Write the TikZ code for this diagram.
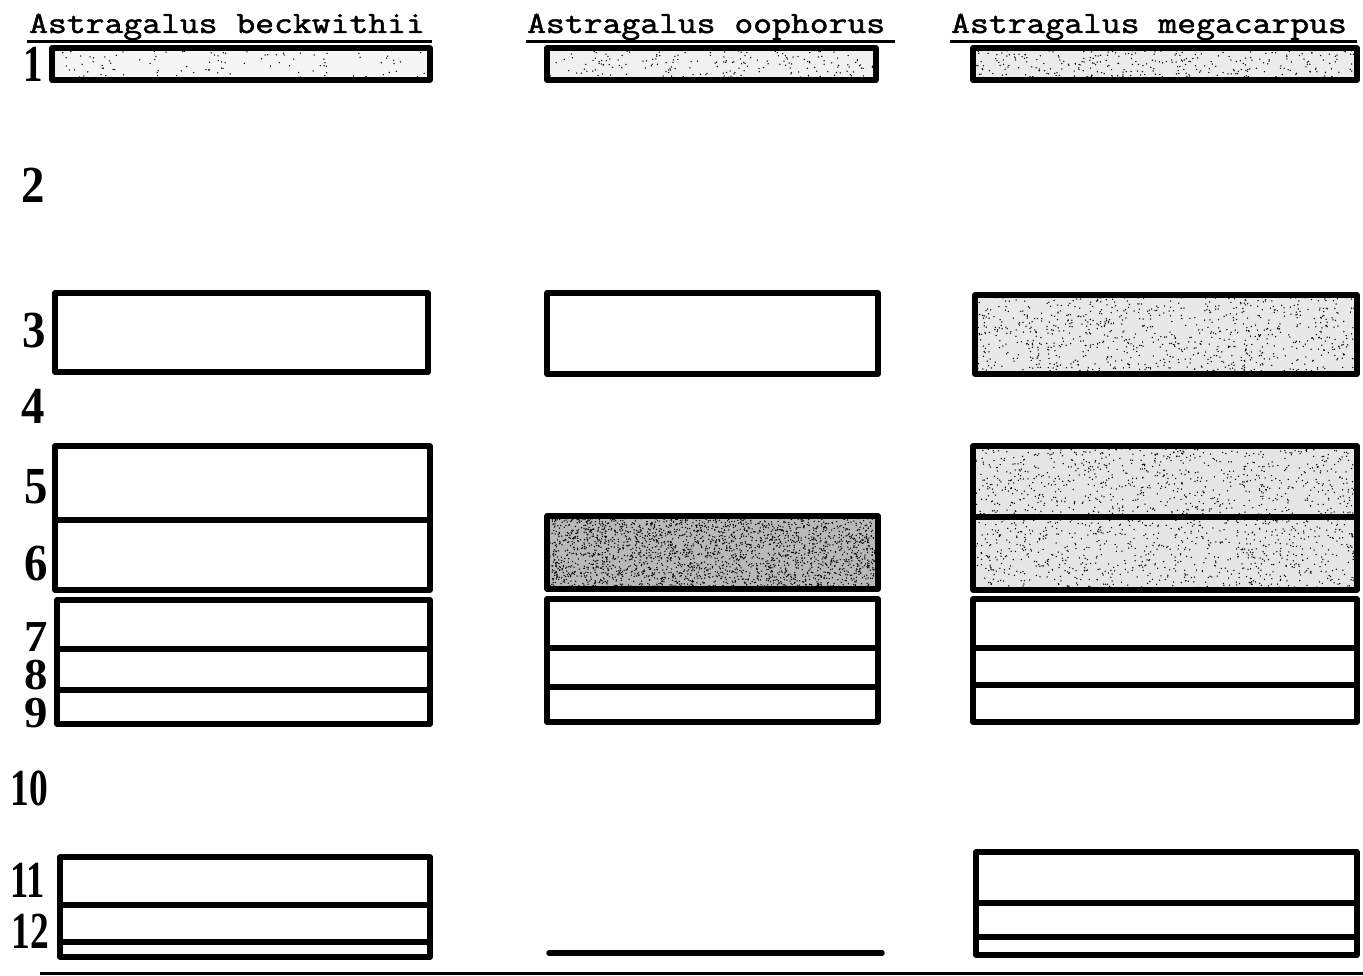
\documentclass[tikz,border=0pt]{standalone}
\usepackage{fontspec}
\usepackage{graphicx}
\setmainfont{Liberation Serif}
\newfontfamily\hdrfont{Latin Modern Mono}[FakeBold=1.5]
\newcommand\stipplebox[6]{%
  \fill[black!#6] (#1,#2) rectangle (#3,#4);
  \foreach \k in {1,...,#5}{\fill ({#1+rnd*(#3-#1)},{#2+rnd*(#4-#2)}) circle (0.75);}}
\begin{document}
\begin{tikzpicture}[x=1pt,y=-1pt,
  band/.style={line width=5.5pt,line join=round,line cap=round},
  divider/.style={line width=5.5pt},
  header/.style={anchor=base west,inner sep=0pt,font=\fontsize{31}{31}\hdrfont\bfseries},
  rowlab/.style={anchor=base east,inner sep=0pt,font=\fontsize{52}{52}\bfseries}]
\useasboundingbox (0,0) rectangle (1363,976);
\fill[white] (0,0) rectangle (1363,976);
\pgfmathsetseed{7}
% headers
\node[header] (h1) at (29,33) {\scalebox{1.18}[1]{Astragalus beckwithii}};
\node[header] (h2) at (527,33) {\scalebox{1.18}[1]{Astragalus oophorus}};
\node[header] (h3) at (951,33) {\scalebox{1.18}[1]{Astragalus megacarpus}};
\draw[line width=3pt] (27,41.5) -- (432,41.5);
\draw[line width=3pt] (526,41.5) -- (895,41.5);
\draw[line width=3pt] (950,41.5) -- (1357,41.5);
% row labels
\node[rowlab] (l1) at (43,82) {\scalebox{0.75}[1]{1}};
\node[rowlab] (l2) at (45,203) {\scalebox{0.9}[1]{2}};
\node[rowlab] (l3) at (46,348) {\scalebox{0.9}[1]{3}};
\node[rowlab] (l4) at (45,423) {\scalebox{0.9}[1]{4}};
\node[rowlab] (l5) at (48,503) {\scalebox{0.9}[1]{5}};
\node[rowlab] (l6) at (48,580) {\scalebox{0.9}[1]{6}};
\node[rowlab] (l7) at (48,651) {\scalebox{0.9}[0.85]{7}};
\node[rowlab] (l8) at (48,689) {\scalebox{0.9}[0.85]{8}};
\node[rowlab] (l9) at (48,727) {\scalebox{0.9}[0.85]{9}};
\node[rowlab] (l10) at (48,805) {\scalebox{0.72}[1]{10}};
\node[rowlab] (l11) at (45,897) {\scalebox{0.7}[1]{11}};
\node[rowlab] (l12) at (49,948) {\scalebox{0.72}[1]{12}};
% stippling
\stipplebox{52}{48}{430}{80}{120}{4}
\stipplebox{547}{48}{876}{80}{220}{6}
\stipplebox{973}{48}{1357}{80}{350}{8}
\stipplebox{975}{295}{1357}{374}{900}{9}
\stipplebox{973}{446}{1357}{590}{1700}{10}
\stipplebox{547}{516}{878}{589}{2600}{28}
% column 1
\draw[band] (52,48) rectangle (430,80);
\draw[band] (55,293) rectangle (428,372);
\draw[band] (55,446) rectangle (430,590);
\draw[divider] (55,520) -- (430,520);
\draw[band] (57,600) rectangle (430,724);
\draw[divider] (57,649) -- (430,649);
\draw[divider] (57,690) -- (430,690);
\draw[band] (60,857) rectangle (430,957);
\draw[divider] (60,905) -- (430,905);
\draw[divider] (60,942) -- (430,942);
% column 2
\draw[band] (547,48) rectangle (876,80);
\draw[band] (547,293) rectangle (878,374);
\draw[band] (547,516) rectangle (878,589);
\draw[band] (547,599) rectangle (878,722);
\draw[divider] (547,648) -- (878,648);
\draw[divider] (547,687) -- (878,687);
\draw[band] (549,953) -- (882,953);
% column 3
\draw[band] (973,48) rectangle (1357,80);
\draw[band] (975,295) rectangle (1357,374);
\draw[band] (973,446) rectangle (1357,590);
\draw[divider] (973,517) -- (1357,517);
\draw[band] (973,599) rectangle (1357,722);
\draw[divider] (973,648) -- (1357,648);
\draw[divider] (973,685) -- (1357,685);
\draw[band] (976,852) rectangle (1357,955);
\draw[divider] (976,903) -- (1357,903);
\draw[divider] (976,937) -- (1357,937);
% bottom rule
\draw[line width=3pt] (40,973) -- (1363,973);
\end{tikzpicture}
\end{document}
